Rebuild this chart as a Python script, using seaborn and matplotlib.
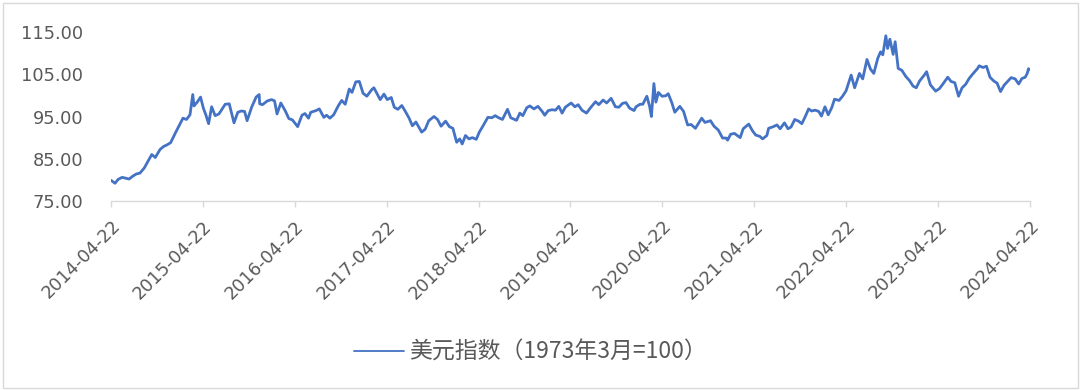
import matplotlib
matplotlib.use("Agg")
import matplotlib.pyplot as plt
import matplotlib.dates as mdates
from matplotlib.patches import Rectangle
import pandas as pd
import seaborn as sns

series_name = "美元指数（1973年3月=100）"

dates = [
    "2014-04-22", "2014-05-01", "2014-05-08", "2014-05-20", "2014-06-05", "2014-06-20",
    "2014-07-03", "2014-07-18", "2014-08-01", "2014-08-15", "2014-09-01", "2014-09-15",
    "2014-10-01", "2014-10-15", "2014-11-03", "2014-11-17", "2014-12-01", "2014-12-15",
    "2015-01-02", "2015-01-15", "2015-02-02", "2015-02-16", "2015-03-02", "2015-03-13",
    "2015-03-18", "2015-04-01", "2015-04-13", "2015-04-24", "2015-05-04", "2015-05-15",
    "2015-05-27", "2015-06-10", "2015-06-25", "2015-07-07", "2015-07-20", "2015-08-05",
    "2015-08-24", "2015-09-08", "2015-09-22", "2015-10-05", "2015-10-15", "2015-11-02",
    "2015-11-20", "2015-12-02", "2015-12-04", "2015-12-15",
    "2016-01-04", "2016-01-20", "2016-02-01", "2016-02-11", "2016-02-26", "2016-03-15",
    "2016-03-29", "2016-04-12", "2016-05-03", "2016-05-20", "2016-06-01", "2016-06-15",
    "2016-06-24", "2016-07-15", "2016-07-28", "2016-08-15", "2016-08-26", "2016-09-08",
    "2016-09-23", "2016-10-12", "2016-10-25", "2016-11-08", "2016-11-24", "2016-12-05",
    "2016-12-20",
    "2017-01-03", "2017-01-18", "2017-02-02", "2017-02-22", "2017-03-02", "2017-03-27",
    "2017-04-11", "2017-04-24", "2017-05-10", "2017-05-22", "2017-06-05", "2017-06-21",
    "2017-07-05", "2017-07-20", "2017-08-02", "2017-08-16", "2017-09-08", "2017-09-22",
    "2017-10-06", "2017-10-27", "2017-11-10", "2017-11-24", "2017-12-12", "2017-12-27",
    "2018-01-10", "2018-01-25", "2018-02-06", "2018-02-16", "2018-03-01", "2018-03-15",
    "2018-03-28", "2018-04-13", "2018-04-25", "2018-05-10", "2018-05-29", "2018-06-14",
    "2018-06-27", "2018-07-11", "2018-07-26", "2018-08-15", "2018-08-28", "2018-09-20",
    "2018-10-03", "2018-10-15", "2018-10-31", "2018-11-12", "2018-11-28", "2018-12-14",
    "2018-12-31",
    "2019-01-10", "2019-01-24", "2019-02-08", "2019-02-22", "2019-03-07", "2019-03-20",
    "2019-04-02", "2019-04-25", "2019-05-10", "2019-05-23", "2019-06-07", "2019-06-25",
    "2019-07-10", "2019-07-31", "2019-08-13", "2019-08-30", "2019-09-13", "2019-10-01",
    "2019-10-18", "2019-11-01", "2019-11-15", "2019-11-29", "2019-12-13", "2019-12-31",
    "2020-01-08", "2020-01-24", "2020-02-04", "2020-02-20", "2020-03-02", "2020-03-09",
    "2020-03-19", "2020-03-27", "2020-04-06", "2020-04-20", "2020-05-05", "2020-05-15",
    "2020-05-29", "2020-06-10", "2020-06-30", "2020-07-15", "2020-07-31", "2020-08-14",
    "2020-08-31", "2020-09-25", "2020-10-08", "2020-10-30", "2020-11-13", "2020-11-30",
    "2020-12-17", "2020-12-31",
    "2021-01-06", "2021-01-18", "2021-02-02", "2021-02-25", "2021-03-09", "2021-03-31",
    "2021-04-15", "2021-04-28", "2021-05-14", "2021-05-25", "2021-06-11", "2021-06-18",
    "2021-07-07", "2021-07-21", "2021-08-03", "2021-08-20", "2021-09-03", "2021-09-15",
    "2021-09-30", "2021-10-15", "2021-10-28", "2021-11-10", "2021-11-24", "2021-12-06",
    "2021-12-20",
    "2022-01-03", "2022-01-14", "2022-01-28", "2022-02-10", "2022-02-24", "2022-03-07",
    "2022-03-25", "2022-04-08", "2022-04-22", "2022-05-12", "2022-05-26", "2022-06-14",
    "2022-06-27", "2022-07-14", "2022-07-28", "2022-08-10", "2022-08-26", "2022-09-06",
    "2022-09-15", "2022-09-27", "2022-10-04", "2022-10-13", "2022-10-26", "2022-11-03",
    "2022-11-15", "2022-11-30", "2022-12-15", "2022-12-30",
    "2023-01-13", "2023-01-26", "2023-02-08", "2023-02-28", "2023-03-08", "2023-03-23",
    "2023-04-13", "2023-04-28", "2023-05-12", "2023-05-31", "2023-06-13", "2023-06-28",
    "2023-07-13", "2023-07-27", "2023-08-10", "2023-08-24", "2023-09-08", "2023-09-27",
    "2023-10-03", "2023-10-18", "2023-11-01", "2023-11-15", "2023-11-30", "2023-12-13",
    "2023-12-27",
    "2024-01-10", "2024-01-24", "2024-02-07", "2024-02-23", "2024-03-08", "2024-03-21",
    "2024-04-03", "2024-04-11", "2024-04-16", "2024-04-22",
]

dollar_index = [
    79.9, 79.5, 79.2, 80.1, 80.6, 80.4,
    80.2, 80.9, 81.4, 81.6, 82.8, 84.3,
    86.0, 85.3, 87.2, 87.9, 88.3, 88.8,
    91.0, 92.5, 94.6, 94.3, 95.4, 100.2,
    97.5, 98.5, 99.6, 97.0, 95.4, 93.3,
    97.3, 95.2, 95.6, 96.7, 97.9, 98.0,
    93.5, 96.0, 96.3, 96.2, 94.0, 97.2,
    99.6, 100.2, 98.0, 97.8,
    98.7, 99.0, 98.7, 95.6, 98.2, 96.3,
    94.5, 94.2, 92.6, 95.3, 95.7, 94.6,
    96.0, 96.4, 96.8, 94.8, 95.3, 94.6,
    95.4, 97.6, 98.8, 97.9, 101.5, 100.7,
    103.2,
    103.3, 100.5, 99.8, 101.4, 101.8, 99.0,
    100.3, 99.0, 99.5, 97.2, 96.7, 97.6,
    96.2, 94.6, 92.8, 93.7, 91.3, 92.0,
    94.0, 95.0, 94.3, 92.7, 93.9, 92.6,
    92.2, 88.9, 89.7, 88.5, 90.5, 89.7,
    90.0, 89.6, 91.3, 92.8, 94.8, 94.7,
    95.2, 94.7, 94.3, 96.7, 94.7, 94.1,
    95.8, 95.2, 97.1, 97.5, 96.8, 97.4,
    96.2,
    95.3, 96.4, 96.6, 96.5, 97.4, 95.8,
    97.2, 98.2, 97.3, 97.8, 96.5, 95.8,
    97.0, 98.5, 97.8, 98.9, 98.2, 99.3,
    97.3, 97.2, 98.1, 98.3, 97.0, 96.4,
    97.3, 97.9, 97.9, 99.8, 97.4, 95.0,
    102.8, 98.4, 100.7, 99.8, 99.9, 100.4,
    98.3, 96.0, 97.4, 96.2, 93.0, 93.1,
    92.2, 94.6, 93.6, 94.0, 92.7, 91.8,
    89.9, 89.9,
    89.4, 90.8, 91.0, 90.0, 92.1, 93.2,
    91.6, 90.6, 90.3, 89.7, 90.5, 92.2,
    92.6, 93.0, 92.1, 93.5, 92.1, 92.5,
    94.3, 93.9, 93.3, 94.9, 96.8, 96.3,
    96.5,
    96.2, 95.1, 97.3, 95.4, 97.1, 99.1,
    98.8, 99.8, 101.1, 104.8, 101.8, 105.2,
    103.9, 108.5, 106.2, 105.2, 108.8, 110.3,
    109.6, 114.1, 111.1, 113.3, 109.7, 112.7,
    106.4, 105.9, 104.5, 103.5,
    102.2, 101.8, 103.4, 104.9, 105.6, 102.5,
    101.0, 101.6, 102.7, 104.3, 103.3, 103.0,
    99.8, 101.8, 102.6, 104.0, 105.1, 106.4,
    107.0, 106.6, 106.9, 104.3, 103.4, 102.9,
    100.9,
    102.4, 103.3, 104.2, 103.9, 102.7, 104.0,
    104.3, 105.2, 106.3, 106.1,
]

tick_dates = ["2014-04-22", "2015-04-22", "2016-04-22", "2017-04-22", "2018-04-22",
              "2019-04-22", "2020-04-22", "2021-04-22", "2022-04-22", "2023-04-22",
              "2024-04-22"]
y_ticks = [75, 85, 95, 105, 115]

df = pd.DataFrame({"date": pd.to_datetime(dates), "value": dollar_index})

sns.set_theme(style="white")
plt.rcParams["font.family"] = ["DejaVu Sans", "Noto Sans CJK SC"]

fig = plt.figure(figsize=(10.8, 3.9), dpi=100)
ax = fig.add_axes([111 / 1080, 1 - 201 / 390, (1030 - 111) / 1080, (201 - 32) / 390])

sns.lineplot(data=df, x="date", y="value", ax=ax, color="#4472C4", linewidth=2.0,
             label=series_name)

ax.set_xlim(pd.Timestamp(tick_dates[0]), pd.Timestamp(tick_dates[-1]))
ax.set_ylim(y_ticks[0], y_ticks[-1])
ax.set_xticks(pd.to_datetime(tick_dates))
ax.xaxis.set_major_formatter(mdates.DateFormatter("%Y-%m-%d"))
ax.set_yticks(y_ticks)
ax.set_yticklabels([f"{v:.2f}" for v in y_ticks])
ax.set_xlabel("")
ax.set_ylabel("")

for s in ["top", "right", "left"]:
    ax.spines[s].set_visible(False)
ax.spines["bottom"].set_color("#d9d9d9")
ax.spines["bottom"].set_linewidth(1.0)

ax.tick_params(axis="x", which="major", direction="out", length=4.5, width=1.0,
               color="#d9d9d9", labelsize=12.8, labelcolor="#595959", pad=7,
               bottom=True)
ax.tick_params(axis="y", length=0, labelsize=12.8, labelcolor="#595959", pad=20)
for lab in ax.get_xticklabels():
    lab.set_rotation(45)
    lab.set_ha("right")
    lab.set_va("top")
    lab.set_rotation_mode("anchor")

leg = ax.legend(loc="center", bbox_to_anchor=(0.491, 0.097),
                bbox_transform=fig.transFigure, frameon=False,
                prop={"family": ["Noto Sans CJK SC", "DejaVu Sans"], "size": 16.5},
                handlelength=2.2, handletextpad=0.2)
for t in leg.get_texts():
    t.set_color("#595959")
for h in leg.get_lines():
    h.set_linewidth(1.3)

fig.patches.append(Rectangle((2.5 / 1080, 2.5 / 390), 1 - 5 / 1080, 1 - 5 / 390,
                             transform=fig.transFigure, fill=False,
                             edgecolor="#d9d9d9", linewidth=1.0))

fig.savefig("out.png", dpi=100)
